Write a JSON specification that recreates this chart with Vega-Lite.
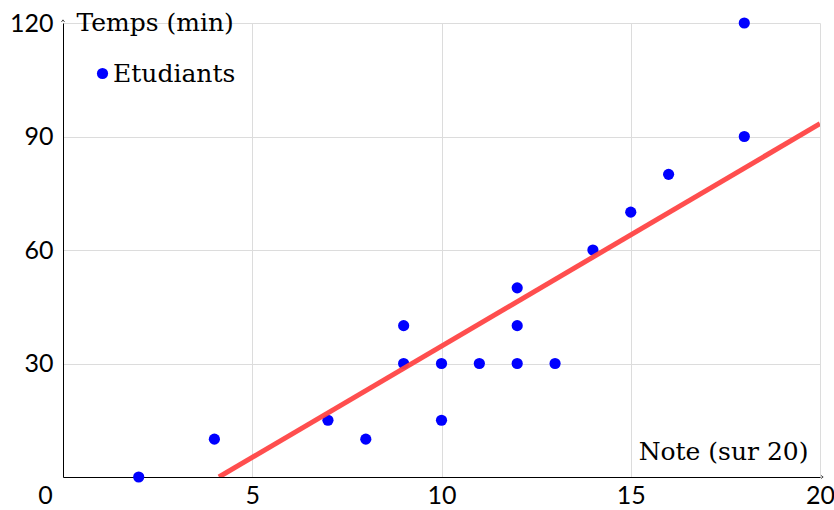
{
  "$schema": "https://vega.github.io/schema/vega-lite/v6.json",
  "width": 757,
  "height": 454,
  "autosize": {"type": "none"},
  "padding": {"left": 63, "top": 23, "right": 14, "bottom": 33},
  "background": "white",
  "config": {
    "view": {"stroke": null},
    "axis": {
      "labelFont": "Lato",
      "labelFontSize": 25,
      "labelColor": "black",
      "titleFont": "DejaVu Serif",
      "titleFontSize": 25,
      "titleFontWeight": "normal",
      "titleColor": "black",
      "domainColor": "black",
      "domainWidth": 1,
      "ticks": false,
      "gridColor": "#dcdcdc",
      "gridWidth": 1
    }
  },
  "datasets": {
    "etudiants": [
      {"note": 2, "temps": 0, "serie": "Etudiants"},
      {"note": 4, "temps": 10, "serie": "Etudiants"},
      {"note": 7, "temps": 15, "serie": "Etudiants"},
      {"note": 8, "temps": 10, "serie": "Etudiants"},
      {"note": 9, "temps": 30, "serie": "Etudiants"},
      {"note": 9, "temps": 40, "serie": "Etudiants"},
      {"note": 10, "temps": 30, "serie": "Etudiants"},
      {"note": 10, "temps": 15, "serie": "Etudiants"},
      {"note": 11, "temps": 30, "serie": "Etudiants"},
      {"note": 12, "temps": 30, "serie": "Etudiants"},
      {"note": 12, "temps": 40, "serie": "Etudiants"},
      {"note": 12, "temps": 50, "serie": "Etudiants"},
      {"note": 13, "temps": 30, "serie": "Etudiants"},
      {"note": 14, "temps": 60, "serie": "Etudiants"},
      {"note": 15, "temps": 70, "serie": "Etudiants"},
      {"note": 16, "temps": 80, "serie": "Etudiants"},
      {"note": 18, "temps": 90, "serie": "Etudiants"},
      {"note": 18, "temps": 120, "serie": "Etudiants"}
    ],
    "tendance": [
      {"note": 4.12, "temps": 0},
      {"note": 20, "temps": 93.4}
    ],
    "fleches": [
      {"note": 20, "temps": 0, "sens": "droite"},
      {"note": 0, "temps": 120, "sens": "haut"}
    ]
  },
  "layer": [
    {
      "data": {"name": "etudiants"},
      "mark": {"type": "point", "filled": true, "size": 125, "opacity": 1},
      "encoding": {
        "x": {
          "field": "note",
          "type": "quantitative",
          "scale": {"domain": [0, 20], "nice": false, "zero": false},
          "axis": {
            "values": [0, 5, 10, 15, 20],
            "labelPadding": 6,
            "labelOffset": {"condition": {"test": "datum.value == 0", "value": -18}, "value": 0},
            "labelFlush": false,
            "title": "Note (sur 20)",
            "titleAnchor": "end",
            "titleAlign": "right",
            "titleBaseline": "middle",
            "titleX": 745,
            "titleY": -26
          }
        },
        "y": {
          "field": "temps",
          "type": "quantitative",
          "scale": {"domain": [0, 120], "nice": false},
          "axis": {
            "values": [30, 60, 90, 120],
            "labelPadding": 10,
            "labelFlush": false,
            "title": "Temps (min)",
            "titleAngle": 0,
            "titleAlign": "left",
            "titleBaseline": "middle",
            "titleX": 13,
            "titleY": -1
          }
        },
        "color": {
          "field": "serie",
          "type": "nominal",
          "scale": {"range": ["#0000ff"]},
          "legend": {
            "title": null,
            "orient": "none",
            "legendX": 27,
            "legendY": 38,
            "padding": 0,
            "symbolType": "circle",
            "symbolSize": 125,
            "symbolStrokeWidth": 0,
            "labelFont": "DejaVu Serif",
            "labelFontSize": 25,
            "labelColor": "black",
            "labelOffset": -2
          }
        }
      }
    },
    {
      "data": {"name": "tendance"},
      "mark": {"type": "line", "color": "#ff4444", "strokeWidth": 5, "opacity": 0.95, "clip": true},
      "encoding": {
        "x": {"field": "note", "type": "quantitative"},
        "y": {"field": "temps", "type": "quantitative"}
      }
    },
    {
      "data": {"name": "fleches"},
      "mark": {"type": "point", "filled": false, "stroke": "black", "strokeWidth": 1, "size": 40},
      "encoding": {
        "x": {"field": "note", "type": "quantitative"},
        "y": {"field": "temps", "type": "quantitative"},
        "shape": {
          "field": "sens",
          "type": "nominal",
          "scale": {
            "domain": ["droite", "haut"],
            "range": ["M 0.3 -0.5 L 1 0 L 0.3 0.5", "M -0.5 -0.3 L 0 -1 L 0.5 -0.3"]
          },
          "legend": null
        }
      }
    }
  ]
}
